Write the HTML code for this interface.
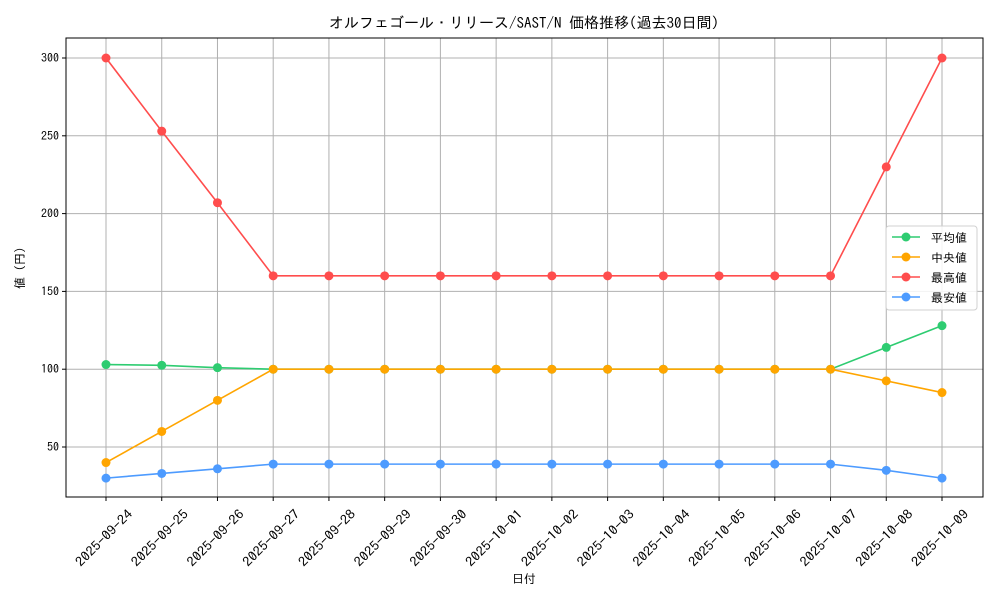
<!DOCTYPE html>
<html><head><meta charset="utf-8"><style>
body{margin:0;background:#fff}
svg text{font-family:"IPAGothic","Noto Sans CJK JP",sans-serif;fill:#000}
</style></head><body>
<svg id="c" width="1000" height="600">
<text x="524" y="28" font-size="15" text-anchor="middle">オルフェゴール・リリース/SAST/N 価格推移(過去30日間)</text>
<g id="grid"></g><g id="axes"></g><g id="series"></g>
<text x="524" y="583" font-size="12" text-anchor="middle">日付</text>
<text transform="translate(24,268) rotate(-90)" font-size="12" text-anchor="middle">値 (円)</text>
<g id="legend"></g>
</svg>
<script>
const categories=["2025-09-24","2025-09-25","2025-09-26","2025-09-27","2025-09-28","2025-09-29","2025-09-30","2025-10-01","2025-10-02","2025-10-03","2025-10-04","2025-10-05","2025-10-06","2025-10-07","2025-10-08","2025-10-09"];
const meanVals=[103,102.5,101,100,100,100,100,100,100,100,100,100,100,100,114,128];
const medianVals=[40,60,80,100,100,100,100,100,100,100,100,100,100,100,92.5,85];
const maxVals=[300,253,207,160,160,160,160,160,160,160,160,160,160,160,230,300];
const minVals=[30,33,36,39,39,39,39,39,39,39,39,39,39,39,35,30];
const yTicks=[50,100,150,200,250,300];
const seriesNames=["平均値","中央値","最高値","最安値"];
const colors=["#2ecc71","#ffa500","#ff4d4d","#4d9bff"];
const L=66,R=983,T=38,B=497;
const x=i=>106+i*(942-106)/(categories.length-1);
const y=v=>447-(v-50)*(389/250);
const NS="http://www.w3.org/2000/svg";
function mk(p,tag,a){const e=document.createElementNS(NS,tag);for(const k in a)e.setAttribute(k,a[k]);document.getElementById(p).appendChild(e);return e;}
categories.forEach((c,i)=>{
 const g=mk("grid","line",{x1:x(i),x2:x(i),y1:T,y2:B,stroke:"#b0b0b0","stroke-width":1});
 
 
 mk("axes","line",{x1:x(i),x2:x(i),y1:B,y2:B+4,stroke:"#000"});
 const t=mk("axes","text",{transform:`translate(${x(i)-2},${B+41}) rotate(-45)`,"font-size":13,"text-anchor":"middle","dominant-baseline":"central",textLength:74,lengthAdjust:"spacingAndGlyphs"});
 t.textContent=c;
 
 
});
yTicks.forEach(v=>{
 const g=mk("grid","line",{x1:L,x2:R,y1:y(v),y2:y(v),stroke:"#b0b0b0","stroke-width":1});
 
 
 mk("axes","line",{x1:L-4,x2:L,y1:y(v),y2:y(v),stroke:"#000"});
 const t=mk("axes","text",{x:L-7,y:y(v)+4,"font-size":12,"text-anchor":"end"});
 t.textContent=v;
 
 
});
const fr=mk("axes","rect",{x:L,y:T,width:R-L,height:B-T,fill:"none",stroke:"#000"});


[meanVals,medianVals,maxVals,minVals].forEach((vals,s)=>{
 const pl=mk("series","polyline",{points:vals.map((v,i)=>x(i)+","+y(v)).join(" "),fill:"none",stroke:colors[s],"stroke-width":1.6});
 
 
 vals.forEach((v,i)=>{
  const c=mk("series","circle",{cx:x(i),cy:y(v),r:4.5,fill:colors[s]});
  
  
 });
});
const lb=mk("legend","rect",{x:886,y:226,width:91,height:84,rx:3,fill:"#fff","fill-opacity":0.85,stroke:"#d0d0d0"});


seriesNames.forEach((n,i)=>{
 const yy=237+i*20;
 mk("legend","line",{x1:892,x2:920,y1:yy,y2:yy,stroke:colors[i],"stroke-width":1.6});
 mk("legend","circle",{cx:906,cy:yy,r:4.5,fill:colors[i]});
 const t=mk("legend","text",{x:931,y:yy+5,"font-size":12});
 t.textContent=n;
 
 
});
</script>
</body></html>
